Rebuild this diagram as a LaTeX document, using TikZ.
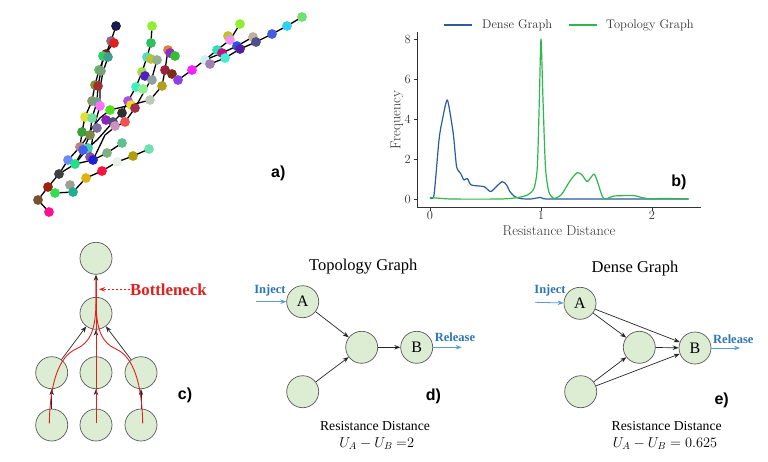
\documentclass[tikz,border=0pt]{standalone}
\usepackage{fontspec}
\usetikzlibrary{arrows.meta}
\setmainfont{Liberation Serif}
\newfontfamily\lmr{Latin Modern Roman}
\newfontfamily\lab{Liberation Sans}
\definecolor{nodefill}{HTML}{DDEDD3}
\definecolor{nodedraw}{HTML}{5A5A5A}
\definecolor{injblue}{HTML}{2E75B6}
\definecolor{injarrow}{HTML}{5B9BD5}
\definecolor{densec}{HTML}{2A5C9E}
\definecolor{topoc}{HTML}{2DB84B}
\definecolor{bnred}{HTML}{E01F1F}
\definecolor{axisc}{HTML}{333333}
\tikzset{
  gnode/.style={circle, fill=nodefill, draw=nodedraw, line width=0.7pt, minimum size=32pt, inner sep=0pt, font=\fontsize{16}{16}\selectfont},
  edge/.style={-{Stealth[length=6pt,width=4.5pt]}, line width=0.7pt, black!85},
  flow/.style={-{Stealth[length=6pt,width=4.5pt]}, line width=0.8pt, injarrow},
  flowlbl/.style={text=injblue, font=\bfseries\fontsize{12.5}{13}\selectfont, inner sep=0pt},
  panel/.style={font=\lab\bfseries\fontsize{16}{16}\selectfont, inner sep=0pt},
  title/.style={font=\fontsize{16.5}{17}\selectfont, inner sep=0pt},
  rdlbl/.style={font=\fontsize{13.7}{15}\selectfont, inner sep=0pt},
  redflow/.style={bnred, line width=0.9pt},
  tick/.style={axisc, line width=0.7pt},
  ticklbl/.style={font=\lmr\fontsize{12.5}{13}\selectfont, inner sep=0pt, text=axisc},
  axlbl/.style={font=\lmr\fontsize{14.2}{15}\selectfont, inner sep=0pt, text=axisc},
  aedge/.style={black, line width=1.3pt},
}
\begin{document}
\begin{tikzpicture}[x=1pt, y=-1pt]
\useasboundingbox (0,0) rectangle (768,461);
\fill[white] (0,0) rectangle (768,461);

% ---------------- panel a ----------------
\draw[aedge] (116,26) -- (111,41) -- (106,54) -- (99,70) -- (95,85) -- (92,101) -- (85,117) -- (82,132) -- (80,147) -- (68,160) -- (59,174) -- (48,187) -- (38,200) -- (49,212);
\draw[aedge] (114,43) -- (103,56) -- (101,71) -- (98,86) -- (97,102) -- (92,118) -- (90,135) -- (83,150) -- (75,164) -- (59,174);
\draw[aedge] (108,57) -- (103,72) -- (100,88) -- (100,106) -- (96,120) -- (93,135) -- (90,157);
\draw[aedge] (152,26) -- (151,43) -- (147,57) -- (142,72) -- (136,87) -- (128,101) -- (122,113) -- (113,122) -- (106,130) -- (97,140) -- (88,148) -- (75,164);
\draw[aedge] (157,60) -- (152,78) -- (145,90) -- (135,108) -- (125,122) -- (115,127) -- (105,135) -- (93,160);
\draw[aedge] (168,50) -- (165,70) -- (162,86) -- (150,100) -- (131,105) -- (110,110) -- (100,118) -- (92,128) -- (85,140) -- (80,147);
\draw[aedge] (192,70) -- (178,80) -- (172,74) -- (165,70);
\draw[aedge] (302,17) -- (287,26) -- (272,34) -- (256,42) -- (240,49) -- (225,58) -- (210,64) -- (205,60) -- (192,70);
\draw[aedge] (253,37) -- (237,46) -- (222,53) -- (205,60);
\draw[aedge] (240,24) -- (230,40) -- (217,50) -- (205,60);
\draw[aedge] (149,149) -- (133,156) -- (117,162) -- (102,171) -- (86,178) -- (73,192) -- (55,193) -- (48,187);
\draw[aedge] (122,143) -- (107,153) -- (93,160) -- (75,164);
\foreach \px/\py/\hc in {116/26/1A1A50,111/41/8A6A8A,114/43/E02020,106/54/7A1A1A,103/56/30D060,108/57/40A090,
  99/70/5CBF5C,101/71/7AA07A,95/85/7A9A3A,98/86/A03030,92/101/8A9A6A,97/102/70A090,100/106/FF70FF,
  85/117/E0E030,92/118/70E0A0,110/110/50E020,106/120/9020C0,113/122/505070,115/126/D090C0,
  82/132/3AA03A,90/135/7A8A40,97/128/8070A0,80/147/C08080,88/148/40D0B0,83/150/4060F0,90/157/9050A0,
  93/160/2020D0,68/160/6A8AFF,75/164/20E080,59/174/404040,48/187/A02010,38/200/7A5030,49/212/FF1090,
  55/193/30E050,70/185/A0A090,73/192/20B090,86/178/E0B010,102/171/FF1040,117/162/E8F0E8,133/156/B0A010,
  149/149/70E0B0,107/153/80B080,122/143/60C090,152/26/90EE30,151/43/30C060,147/57/50E0C0,151/59/C0C030,
  157/60/90B090,142/72/A0E040,145/76/5020C0,152/80/90A0A0,136/87/40F0C0,143/89/90EE90,150/100/C0C8B8,
  128/101/B050E0,131/105/E0E020,135/108/A03050,122/113/303030,125/122/F05050,168/50/E08040,170/53/9030C0,
  175/56/30C030,165/70/A02040,172/74/7A3010,162/86/B0A020,178/80/9040E0,192/70/FF20FF,205/60/D0F0F0,
  210/64/A080B0,217/50/30E0B0,222/53/C0108A,225/58/40F0D0,228/36/C0C030,230/40/F090F0,240/24/90F030,
  237/46/3050E0,240/49/5020A0,253/37/C0B0A0,256/42/505090,272/34/4060E0,287/26/30D0F0,302/17/70E070}
{
  \definecolor{dotc}{HTML}{\hc}
  \fill[dotc] (\px,\py) circle (4.9pt);
}
\node[panel] (la) at (278.3,173.3) {a)};

% ---------------- panel b ----------------
\draw[tick] (417.3,32) -- (417.3,207) -- (700.7,207);
\foreach \xv/\xl in {430/0,541/1,652/2} {
  \draw[tick] (\xv,207) -- (\xv,210.5);
  \node[ticklbl, anchor=north] at (\xv,210.5) {\xl};
}
\foreach \yv/\yl in {199/0,159/2,119/4,79/6,39/8} {
  \draw[tick] (417.3,\yv) -- (413.8,\yv);
  \node[ticklbl, anchor=east] at (411,\yv) {\yl};
}
\node[axlbl] (xlab) at (559,231) {Resistance Distance};
\node[axlbl, rotate=90] (ylab) at (397,120) {Frequency};
\draw[densec, line width=1.2pt] (444,25) -- (472,25);
\node[ticklbl, anchor=west] (lg1) at (482,25.5) {Dense Graph};
\draw[topoc, line width=1.2pt] (569,25) -- (597,25);
\node[ticklbl, anchor=west] (lg2) at (606,25.5) {Topology Graph};
\begin{scope}[shift={(430,199)}, x=111pt, y=20pt]
\draw[densec, line width=1.2pt, line join=round] plot[smooth, tension=0.4] coordinates {
 (0,0.07) (0.036,0.2) (0.081,2.95) (0.111,3.95) (0.156,4.95) (0.201,3.6) (0.216,2.95) (0.24,1.6)
 (0.276,1.28) (0.306,0.95) (0.336,1.03) (0.372,0.7) (0.486,0.62) (0.547,0.37) (0.607,0.67)
 (0.652,0.87) (0.69,0.7) (0.72,0.37) (0.763,0.12) (0.817,0.02) (0.907,0) (1.0,0.08) (1.057,0)
 (1.6,0) (2.33,0)};
\draw[topoc, line width=1.2pt, line join=round] plot[smooth, tension=0.4] coordinates {
 (0,0.08) (0.19,0) (0.64,0) (0.787,0.07) (0.877,0.2) (0.937,0.53) (0.967,1.6) (0.985,4.95) (1.0,8)
 (1.018,4.95) (1.04,1.6) (1.07,0.37) (1.117,0.03) (1.18,0.2) (1.22,0.53) (1.267,0.95) (1.327,1.32)
 (1.37,1.2) (1.417,0.87) (1.477,1.25) (1.508,0.87) (1.553,0.12) (1.583,0) (1.66,0.15) (1.84,0.17)
 (1.9,0.08) (1.99,0) (2.08,0.03) (2.33,0)};
\end{scope}
\node[panel] (lb) at (679,182) {b)};

% ---------------- panel c ----------------
\node[gnode] (c1) at (96,258.3) {};
\node[gnode] (c2) at (96,313.3) {};
\node[gnode] (c3l) at (51.7,372.7) {};
\node[gnode] (c3m) at (96,372.7) {};
\node[gnode] (c3r) at (141,372.7) {};
\node[gnode] (c4l) at (51.7,425) {};
\node[gnode] (c4m) at (96,425) {};
\node[gnode] (c4r) at (141,425) {};
\draw[edge] (c4l) -- (c3l);
\draw[edge] (c4m) -- (c3m);
\draw[edge] (c4r) -- (c3r);
\draw[edge] (c3l) -- (c2);
\draw[edge] (c3m) -- (c2);
\draw[edge] (c3r) -- (c2);
\draw[edge] (c2) -- (c1);
\coordinate (rl) at (49.3,423.3);
\coordinate (rm) at (96,423.3);
\coordinate (rr) at (142.7,423.3);
\coordinate (rtop) at (96,279);
\draw[redflow] (rl) .. controls (50,385) and (58,357) .. (76,349) .. controls (90,343) and (96,330) .. (96,300) -- (rtop);
\draw[redflow] (rr) .. controls (142,385) and (134,357) .. (116,349) .. controls (102,343) and (96,330) .. (96,300) -- (rtop);
\draw[redflow] (rm) -- (rtop);
\node[font=\bfseries\fontsize{16.8}{17}\selectfont, text=bnred, anchor=west, inner sep=0pt] (bn) at (130,289.3) {Bottleneck};
\coordinate (bnend) at (99,289.3);
\draw[bnred, dashed, dash pattern=on 2.5pt off 1.5pt, line width=0.9pt, -{Stealth[length=6pt,width=4.5pt]}] (bn.west) -- (bnend);
\node[panel] (lc) at (185,395) {c)};

% ---------------- panel d ----------------
\node[title] (dt) at (363.3,267) {Topology Graph};
\node[gnode] (dA) at (302.7,301.7) {A};
\node[gnode] (dM) at (361.7,347.3) {};
\node[gnode] (dB) at (416.7,347.3) {B};
\node[gnode] (dC) at (302.7,391.7) {};
\draw[edge] (dA) -- (dM);
\draw[edge] (dC) -- (dM);
\draw[edge] (dM) -- (dB);
\coordinate (dIn) at (256,301.7);
\draw[flow] (dIn) -- (dA);
\node[flowlbl] (dinj) at (270,290) {Inject};
\coordinate (dOut) at (461.7,347.3);
\draw[flow] (dB) -- (dOut);
\node[flowlbl] (drel) at (455,337.5) {Release};
\node[panel] (ld) at (433.3,396) {d)};
\node[rdlbl] (drd) at (375,426) {Resistance Distance};
\node[rdlbl] (deq) at (376.7,443.5) {$U_A - U_B\ {=}2$};

% ---------------- panel e ----------------
\node[title] (et) at (635,268.5) {Dense Graph};
\node[gnode] (eA) at (580,303.3) {A};
\node[gnode] (eM) at (639.3,347.3) {};
\node[gnode] (eB) at (695,348) {B};
\node[gnode] (eC) at (580.7,391.7) {};
\draw[edge] (eA) -- (eM);
\draw[edge] (eA) -- (eB);
\draw[edge] (eC) -- (eM);
\draw[edge] (eC) -- (eB);
\draw[edge] (eM) -- (eB);
\coordinate (eIn) at (535,302.3);
\draw[flow] (eIn) -- (eA);
\node[flowlbl] (einj) at (550,290.7) {Inject};
\coordinate (eOut) at (740,348);
\draw[flow] (eB) -- (eOut);
\node[flowlbl] (erel) at (733.3,339.3) {Release};
\node[panel] (le) at (721.7,400.7) {e)};
\node[rdlbl] (erd) at (666.7,426) {Resistance Distance};
\node[rdlbl] (eeq) at (665,443.5) {$U_A - U_B = 0.625$};
\end{tikzpicture}
\end{document}
